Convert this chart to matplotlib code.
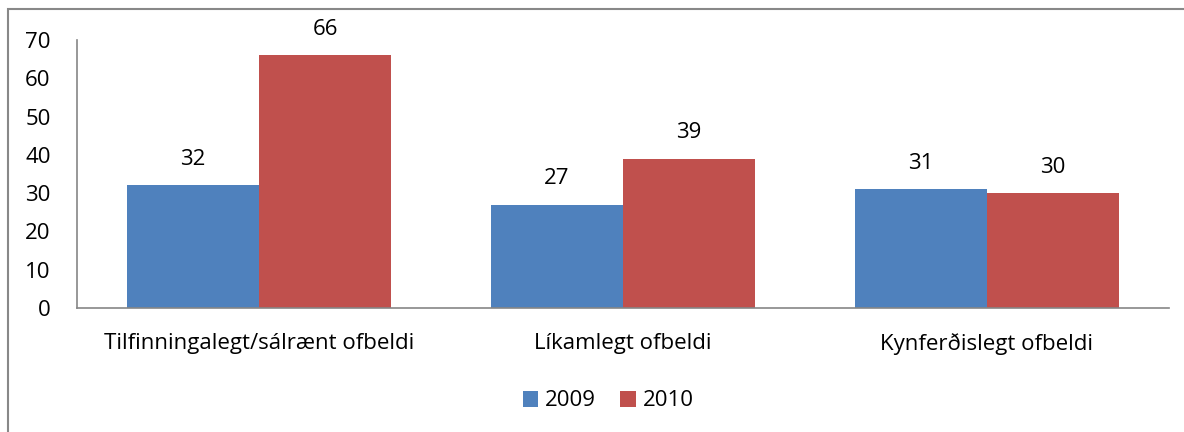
import matplotlib.pyplot as plt
import numpy as np
from matplotlib.patches import Rectangle

categories = ['Tilfinningalegt/sálrænt ofbeldi', 'Líkamlegt ofbeldi', 'Kynferðislegt ofbeldi']
years = ['2009', '2010']
v2009 = [32, 27, 31]
v2010 = [66, 39, 30]
yticks = [0, 10, 20, 30, 40, 50, 60, 70]

blue = '#4F81BD'
red = '#C0504D'
plt.rcParams['font.family'] = ['Open Sans', 'DejaVu Sans']
fs = 16

W, H = 1184, 432
fig = plt.figure(figsize=(W / 100, H / 100), dpi=100)
ax = fig.add_axes([77 / W, (H - 308) / H, (1169 - 77) / W, (308 - 40) / H])

x = np.arange(len(categories))
bw = 132 / 364
b1 = ax.bar(x - bw / 2, v2009, bw, color=blue, label=years[0])
b2 = ax.bar(x + bw / 2, v2010, bw, color=red, label=years[1])

for bars in (b1, b2):
    for b in bars:
        ax.annotate(str(int(b.get_height())), (b.get_x() + b.get_width() / 2, b.get_height()),
                    xytext=(0, 11), textcoords='offset points', ha='center', va='bottom', fontsize=fs)

ax.set_xlim(-0.5, len(categories) - 0.5)
ax.set_ylim(0, 70)
ax.set_yticks(yticks)
ax.set_xticks(x)
ax.set_xticklabels(categories, fontsize=fs)
ax.tick_params(axis='y', length=0, pad=19, labelsize=fs)
ax.tick_params(axis='x', length=0, pad=18)
for s in ['top', 'right']:
    ax.spines[s].set_visible(False)
for s in ['left', 'bottom']:
    ax.spines[s].set_color('#868686')
    ax.spines[s].set_linewidth(1.2)

fig.legend(loc='center', bbox_to_anchor=(608 / W, (H - 401) / H), ncol=2, frameon=False,
           fontsize=fs, handlelength=0.7, handleheight=0.7, handletextpad=0.3, columnspacing=1.1)

fig.patches.append(Rectangle((8 / W, -0.1), 2, (H - 9.5) / H + 0.1, transform=fig.transFigure,
                             fill=False, edgecolor='#888888', linewidth=1.5, clip_on=False))

fig.savefig('out.png', dpi=100)
